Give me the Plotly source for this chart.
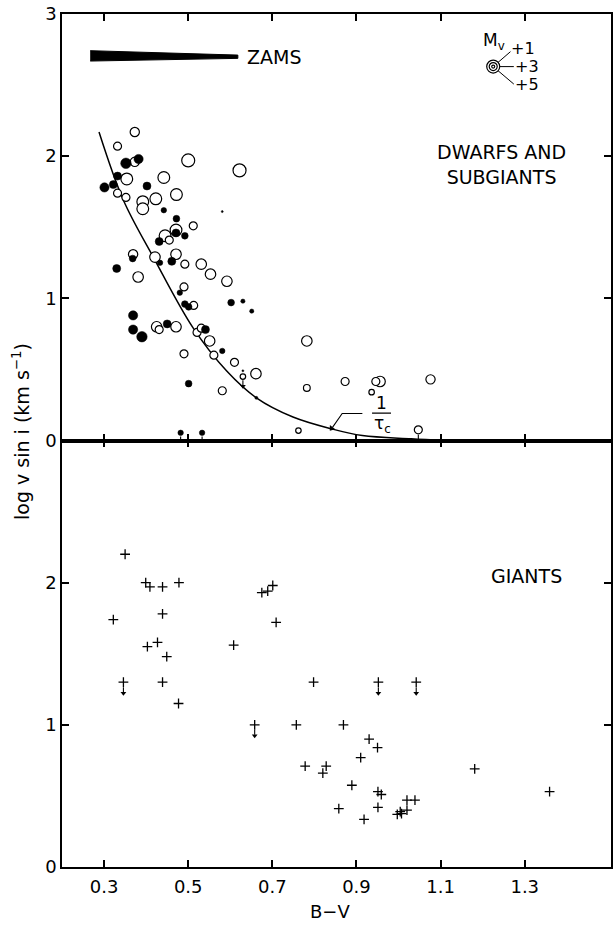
import plotly.graph_objects as go
from plotly.subplots import make_subplots

# ---- Dwarfs and subgiants: open circles (B-V, log v sin i, M_V) ----
open_bv = [0.373, 0.332, 0.373, 0.500, 0.622, 0.354, 0.442, 0.332, 0.352, 0.472,
           0.423, 0.392, 0.392, 0.512, 0.471, 0.445, 0.455, 0.369, 0.421, 0.471,
           0.492, 0.531, 0.553, 0.592, 0.381, 0.490, 0.513, 0.425, 0.431, 0.471,
           0.521, 0.531, 0.551, 0.490, 0.561, 0.610, 0.630, 0.661, 0.581, 0.782,
           0.782, 0.762, 0.873, 0.946, 0.956, 0.936, 1.076, 1.047]
open_logv = [2.17, 2.07, 1.96, 1.97, 1.90, 1.84, 1.85, 1.74, 1.71, 1.73,
             1.70, 1.68, 1.63, 1.51, 1.48, 1.44, 1.41, 1.31, 1.29, 1.31,
             1.24, 1.24, 1.17, 1.12, 1.15, 1.08, 0.95, 0.80, 0.78, 0.80,
             0.76, 0.79, 0.70, 0.61, 0.60, 0.55, 0.45, 0.47, 0.35, 0.70,
             0.37, 0.07, 0.415, 0.415, 0.415, 0.34, 0.43, 0.075]
open_mv = [2.5, 3, 2.5, 1, 1, 1.5, 1.5, 3, 3, 1.5,
           1.5, 1.5, 1.5, 3, 1.5, 1.5, 3, 2.5, 2, 2,
           3, 2, 2, 2, 2, 3, 3, 2, 3, 2,
           3, 3, 2, 3, 3, 3, 4, 2, 3, 2,
           3.5, 4, 3, 3, 2, 4, 2.5, 3]
open_limit = [False] * 36 + [True] + [False] * 10 + [True]

# ---- Dwarfs and subgiants: filled circles ----
filled_bv = [0.382, 0.352, 0.332, 0.322, 0.301, 0.402, 0.442, 0.581, 0.472, 0.471,
             0.492, 0.431, 0.368, 0.433, 0.461, 0.330, 0.480, 0.492, 0.501, 0.602,
             0.630, 0.651, 0.369, 0.369, 0.390, 0.450, 0.541, 0.581, 0.630, 0.501,
             0.662, 0.482, 0.533]
filled_logv = [1.98, 1.95, 1.86, 1.80, 1.78, 1.79, 1.62, 1.61, 1.56, 1.46,
               1.44, 1.40, 1.28, 1.25, 1.26, 1.21, 1.04, 0.96, 0.94, 0.97,
               0.98, 0.91, 0.88, 0.78, 0.73, 0.82, 0.78, 0.63, 0.49, 0.40,
               0.30, 0.054, 0.054]
filled_mv = [2.5, 2, 3, 3, 2.5, 3, 4, 5.4, 3.5, 3,
             3.5, 3, 3.5, 4, 3, 3, 4, 3.5, 3.5, 3.5,
             4.5, 4.5, 2.5, 2.5, 2, 3, 3, 4, 5.4, 3.5,
             5, 4, 4]
filled_limit = [False] * 31 + [True, True]

# ---- Giants ----
giant_bv = [0.350, 0.399, 0.409, 0.439, 0.478, 0.322, 0.439, 0.403, 0.427, 0.449,
            0.346, 0.439, 0.798, 0.675, 0.689, 0.701, 0.709, 0.608, 0.477, 0.658,
            0.757, 0.778, 0.828, 0.820, 0.858, 0.952, 1.042, 0.869, 0.930, 0.950,
            0.910, 1.181, 1.359, 0.889, 0.951, 0.959, 0.951, 1.020, 1.039, 0.918,
            0.997, 1.004, 1.007, 1.020]
giant_logv = [2.20, 2.00, 1.97, 1.97, 2.00, 1.74, 1.78, 1.55, 1.58, 1.48,
              1.30, 1.30, 1.30, 1.93, 1.94, 1.98, 1.72, 1.56, 1.15, 1.00,
              1.00, 0.71, 0.71, 0.66, 0.41, 1.30, 1.30, 1.00, 0.90, 0.84,
              0.77, 0.69, 0.53, 0.575, 0.53, 0.51, 0.42, 0.47, 0.47, 0.335,
              0.37, 0.39, 0.375, 0.40]
giant_limit = [False] * 10 + [True] + [False] * 8 + [True] + [False] * 5 + [True, True] + [False] * 17

# ---- 1/tau_c curve ----
tau_bv = [0.288, 0.346, 0.417, 0.512, 0.591, 0.662, 0.749, 0.843, 0.914, 1.03, 1.11]
tau_logv = [2.17, 1.69, 1.29, 0.79, 0.49, 0.30, 0.165, 0.08, 0.035, 0.012, 0.0]

# ---- Axis ticks ----
x_ticks = [0.3, 0.5, 0.7, 0.9, 1.1, 1.3]
x_tick_labels = ["0.3", "0.5", "0.7", "0.9", "1.1", "1.3"]
y_ticks_top = [0, 1, 2, 3]
y_tick_labels_top = ["0", "1", "2", "3"]
y_ticks_bottom = [0, 1, 2]
y_tick_labels_bottom = ["0", "1", "2"]

# ---- Key symbols ----
key_mv = [1, 3, 5]
key_labels = ["+1", "+3", "+5"]

FONT = "DejaVu Sans, Liberation Sans, Arial, sans-serif"

X_RANGE = [0.2, 1.505]
Y_RANGE = [0, 3]
PANEL_H = 426.5
PX_Y = (Y_RANGE[1] - Y_RANGE[0]) / PANEL_H   # data units per pixel, vertical


def mv_size(mv):
    return 15.5 - 2.5 * mv


fig = make_subplots(rows=2, cols=1, shared_xaxes=True, vertical_spacing=0)

# 1/tau_c curve
fig.add_trace(go.Scatter(x=tau_bv, y=tau_logv, mode="lines", line_shape="spline",
                         line=dict(color="black", width=1.5), hoverinfo="skip"),
              row=1, col=1)


# largest symbols first so the smaller ones stay visible
def ordered(xs, ys, mvs):
    idx = sorted(range(len(xs)), key=lambda i: mvs[i])
    return ([xs[i] for i in idx], [ys[i] for i in idx], [mv_size(mvs[i]) for i in idx])


ox, oy, osz = ordered(open_bv, open_logv, open_mv)
fig.add_trace(go.Scatter(x=ox, y=oy, mode="markers",
                         marker=dict(symbol="circle", size=osz, color="white", opacity=1,
                                     line=dict(color="black", width=1.2))),
              row=1, col=1)
fx, fy, fsz = ordered(filled_bv, filled_logv, filled_mv)
fig.add_trace(go.Scatter(x=fx, y=fy, mode="markers",
                         marker=dict(symbol="circle", size=fsz, color="black", opacity=1,
                                     line=dict(color="black", width=0.5))),
              row=1, col=1)

# giants
fig.add_trace(go.Scatter(x=giant_bv, y=giant_logv, mode="markers",
                         marker=dict(symbol="cross-thin", size=7, opacity=1,
                                     line=dict(color="black", width=1.3))),
              row=2, col=1)


# upper-limit arrows: short stem with a small head under the symbol
def limit_arrows(xs, ys, gaps, row):
    lx, ly, hx, hy = [], [], [], []
    for x, y, g in zip(xs, ys, gaps):
        lx += [x, x, None]
        ly += [y - (g + 1) * PX_Y, y - (g + 6) * PX_Y, None]
        hx.append(x)
        hy.append(y - (g + 7) * PX_Y)
    fig.add_trace(go.Scatter(x=lx, y=ly, mode="lines",
                             line=dict(color="black", width=1.1)), row=row, col=1)
    fig.add_trace(go.Scatter(x=hx, y=hy, mode="markers",
                             marker=dict(symbol="triangle-down", size=5, color="black")),
                  row=row, col=1)


lim_x = [x for x, l in zip(open_bv, open_limit) if l] + [x for x, l in zip(filled_bv, filled_limit) if l]
lim_y = [y for y, l in zip(open_logv, open_limit) if l] + [y for y, l in zip(filled_logv, filled_limit) if l]
lim_g = [mv_size(m) / 2 for m, l in zip(open_mv, open_limit) if l] + \
        [mv_size(m) / 2 for m, l in zip(filled_mv, filled_limit) if l]
limit_arrows(lim_x, lim_y, lim_g, 1)
limit_arrows([x for x, l in zip(giant_bv, giant_limit) if l],
             [y for y, l in zip(giant_logv, giant_limit) if l],
             [4] * sum(giant_limit), 2)

annotations = []

# ZAMS wedge
zams_x = [0.267, 0.618, 0.618, 0.267]
zams_y = [2.742, 2.711, 2.688, 2.669]
fig.add_trace(go.Scatter(x=zams_x, y=zams_y, mode="lines", fill="toself",
                         fillcolor="black", line=dict(color="black", width=1)),
              row=1, col=1)
annotations.append(dict(x=0.636, y=2.695, xref="x", yref="y", text="ZAMS",
                        showarrow=False, xanchor="left", font=dict(size=19)))

# M_V key
key_x, key_y = 1.225, 2.63
key_ends = [(1.266, 2.735), (1.274, 2.63), (1.274, 2.507)]
for (ex, ey), lab in zip(key_ends, key_labels):
    fig.add_trace(go.Scatter(x=[key_x, ex], y=[key_y, ey], mode="lines",
                             line=dict(color="black", width=1)), row=1, col=1)
    annotations.append(dict(x=ex, y=ey, xref="x", yref="y", text=lab, showarrow=False,
                            xanchor="left", xshift=-1, yshift=3 if lab == "+1" else 0,
                            font=dict(size=16)))
fig.add_trace(go.Scatter(x=[key_x] * 3, y=[key_y] * 3, mode="markers",
                         marker=dict(symbol="circle", size=[mv_size(m) for m in key_mv],
                                     color="white", opacity=1,
                                     line=dict(color="black", width=1.2))),
              row=1, col=1)
annotations.append(dict(x=1.228, y=2.81, xref="x", yref="y", text="M<sub>v</sub>",
                        showarrow=False, font=dict(size=17)))

# 1/tau_c label with bent leader and arrow head
fig.add_trace(go.Scatter(x=[0.914, 0.866, 0.843], y=[0.19, 0.19, 0.092], mode="lines",
                         line=dict(color="black", width=1.1)), row=1, col=1)
fig.add_trace(go.Scatter(x=[0.841], y=[0.085], mode="markers",
                         marker=dict(symbol="triangle-down", size=6, color="black", angle=38)),
              row=1, col=1)
fig.add_shape(type="line", x0=0.937, y0=0.192, x1=0.982, y1=0.192,
              line=dict(color="black", width=1.3), row=1, col=1)
annotations.append(dict(x=0.959, y=0.265, xref="x", yref="y", text="1",
                        showarrow=False, font=dict(size=17)))
annotations.append(dict(x=0.961, y=0.115, xref="x", yref="y", text="τ<sub>c</sub>",
                        showarrow=False, font=dict(size=17)))

# panel titles
annotations.append(dict(x=1.245, y=1.94, xref="x", yref="y", text="DWARFS AND<br>SUBGIANTS",
                        showarrow=False, font=dict(size=19), align="center"))
annotations.append(dict(x=1.305, y=2.05, xref="x2", yref="y2", text="GIANTS",
                        showarrow=False, font=dict(size=19)))

# axis titles
annotations.append(dict(x=-0.075, y=0.511, xref="paper", yref="paper",
                        xanchor="center", yanchor="middle",
                        text="log v sin i (km s<sup>−1</sup>)", textangle=-90,
                        showarrow=False, font=dict(size=19)))
annotations.append(dict(x=0.488, y=-0.052, xref="paper", yref="paper", text="B−V",
                        xanchor="center", yanchor="middle",
                        showarrow=False, font=dict(size=18)))

axis_common = dict(showgrid=False, zeroline=False, showline=True, linecolor="black",
                   linewidth=1.5, mirror="ticks", ticks="inside", ticklen=7,
                   tickwidth=1.5, tickcolor="black",
                   tickfont=dict(size=18, color="black", family=FONT))

fig.update_xaxes(range=X_RANGE, tickvals=x_ticks, **axis_common)
fig.update_xaxes(showticklabels=False, row=1, col=1)
fig.update_xaxes(ticktext=x_tick_labels, ticklabelstandoff=3, row=2, col=1)
fig.update_yaxes(range=Y_RANGE, **axis_common)
fig.update_yaxes(tickvals=y_ticks_top, ticktext=y_tick_labels_top, row=1, col=1)
fig.update_yaxes(tickvals=y_ticks_bottom, ticktext=y_tick_labels_bottom, row=2, col=1)

fig.update_layout(
    width=615, height=926,
    margin=dict(l=62, r=2, t=14, b=59),
    plot_bgcolor="white", paper_bgcolor="white",
    showlegend=False,
    font=dict(family=FONT, color="black"),
    annotations=annotations,
)
fig.layout.yaxis.domain = [0.5, 1.0]
fig.layout.yaxis2.domain = [0.0, 0.5]

fig.write_html("out.html")
